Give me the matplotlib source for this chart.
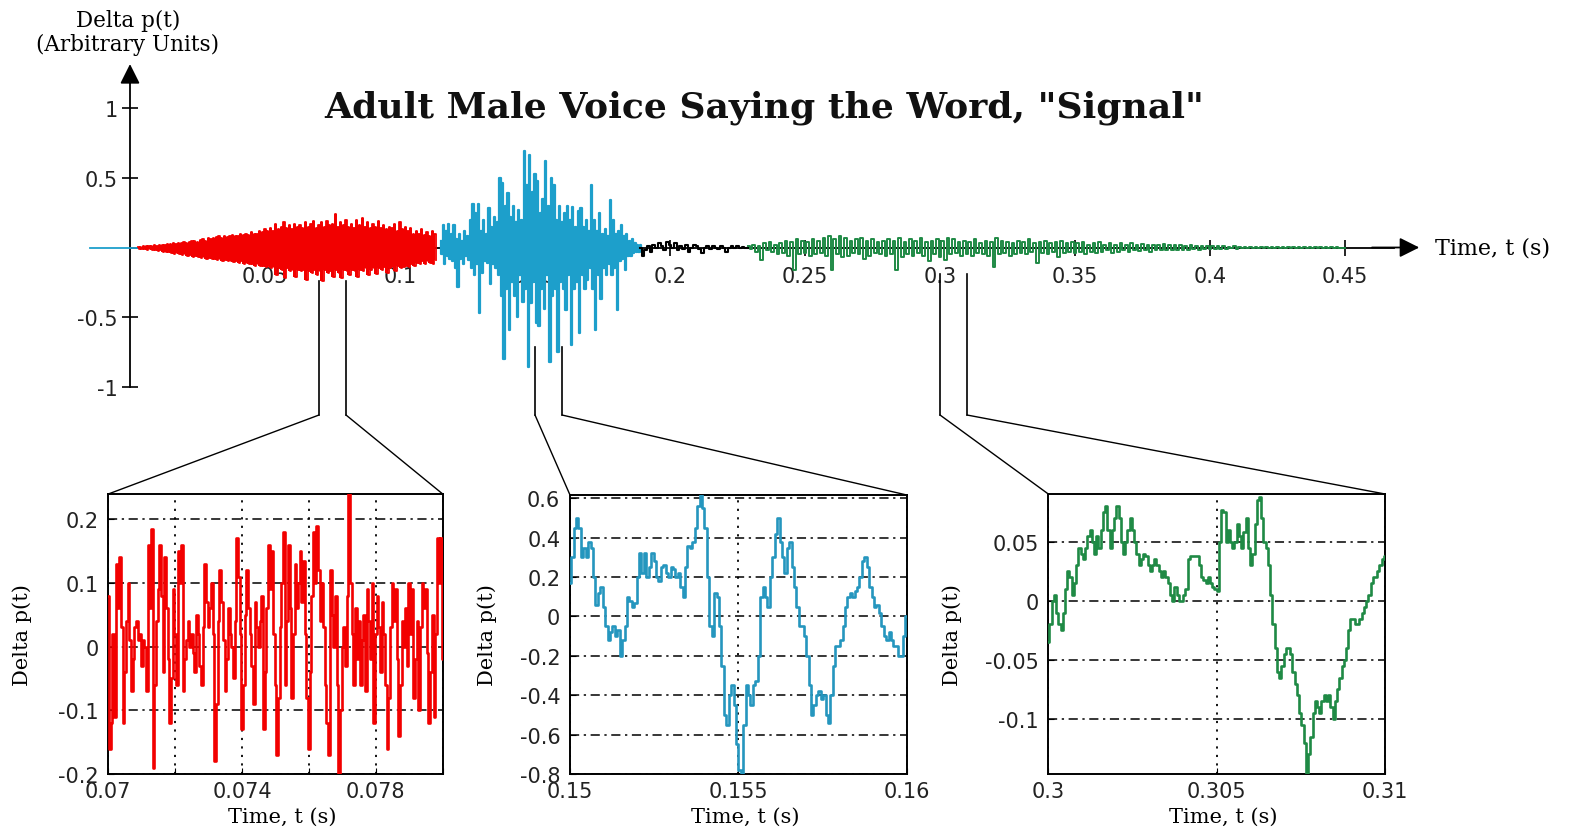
import numpy as np
import matplotlib.pyplot as plt
from matplotlib.patches import ConnectionPatch

# ---------------- main trace ----------------
# red part: upper / lower swing of the trace every millisecond
red_t0, red_dt = 0.003, 0.001
red_hi = [0.005, 0.006, 0.008, 0.01, 0.01, 0.012, 0.015, 0.012, 0.018, 0.02,
          0.02, 0.025, 0.022, 0.03, 0.028, 0.035, 0.03, 0.04, 0.035, 0.04,
          0.045, 0.05, 0.04, 0.055, 0.06, 0.05, 0.065, 0.06, 0.07, 0.075,
          0.08, 0.07, 0.085, 0.075, 0.08, 0.09, 0.08, 0.085, 0.095, 0.09,
          0.1, 0.09, 0.11, 0.1, 0.095, 0.12, 0.11, 0.13, 0.12, 0.14,
          0.12, 0.17, 0.13, 0.15, 0.18, 0.14, 0.16, 0.13, 0.17, 0.15,
          0.16, 0.14, 0.18, 0.15, 0.17, 0.19, 0.14, 0.16, 0.18, 0.15,
          0.19, 0.16, 0.17, 0.24, 0.15, 0.18, 0.16, 0.2, 0.15, 0.17,
          0.14, 0.2, 0.16, 0.21, 0.15, 0.18, 0.14, 0.17, 0.15, 0.19,
          0.14, 0.16, 0.13, 0.15, 0.14, 0.17, 0.12, 0.18, 0.13, 0.15,
          0.12, 0.14, 0.1, 0.12, 0.1, 0.13, 0.09, 0.11, 0.08, 0.12, 0.1]
red_lo = [-0.008, -0.01, -0.012, -0.015, -0.012, -0.02, -0.018, -0.025, -0.02, -0.03,
          -0.035, -0.03, -0.04, -0.045, -0.04, -0.05, -0.055, -0.05, -0.06, -0.055,
          -0.065, -0.06, -0.07, -0.075, -0.07, -0.08, -0.075, -0.085, -0.08, -0.09,
          -0.085, -0.095, -0.09, -0.1, -0.095, -0.105, -0.1, -0.11, -0.1, -0.115,
          -0.11, -0.12, -0.115, -0.13, -0.12, -0.135, -0.13, -0.14, -0.13, -0.15,
          -0.14, -0.2, -0.15, -0.16, -0.22, -0.15, -0.17, -0.16, -0.21, -0.16,
          -0.17, -0.16, -0.23, -0.17, -0.18, -0.16, -0.2, -0.17, -0.24, -0.16,
          -0.18, -0.17, -0.21, -0.16, -0.18, -0.22, -0.16, -0.17, -0.2, -0.16,
          -0.17, -0.21, -0.16, -0.17, -0.15, -0.2, -0.16, -0.15, -0.19, -0.15,
          -0.16, -0.14, -0.18, -0.15, -0.14, -0.17, -0.13, -0.15, -0.14, -0.13,
          -0.14, -0.12, -0.13, -0.11, -0.12, -0.1, -0.12, -0.1, -0.11, -0.12, -0.09]

# blue part (loud vowel)
blue_t0, blue_dt = 0.115, 0.001
blue_hi = [0.05, 0.16, 0.12, 0.17, 0.1, 0.16, 0.06, 0.1, 0.05, 0.12,
           0.08, 0.2, 0.31, 0.25, 0.31, 0.12, 0.2, 0.1, 0.28, 0.15,
           0.22, 0.18, 0.5, 0.46, 0.3, 0.39, 0.22, 0.3, 0.18, 0.27,
           0.2, 0.695, 0.45, 0.66, 0.4, 0.53, 0.48, 0.25, 0.35, 0.62,
           0.3, 0.5, 0.45, 0.2, 0.3, 0.18, 0.25, 0.3, 0.2, 0.29,
           0.15, 0.26, 0.28, 0.15, 0.2, 0.12, 0.45, 0.2, 0.12, 0.25,
           0.1, 0.13, 0.08, 0.34, 0.2, 0.1, 0.12, 0.16, 0.08, 0.1,
           0.05, 0.06, 0.03, 0.02, 0.02]
blue_lo = [-0.05, -0.12, -0.06, -0.08, -0.1, -0.15, -0.28, -0.08, -0.12, -0.06,
           -0.09, -0.15, -0.2, -0.12, -0.47, -0.18, -0.1, -0.11, -0.26, -0.12,
           -0.15, -0.2, -0.35, -0.8, -0.3, -0.59, -0.25, -0.35, -0.5, -0.2,
           -0.39, -0.3, -0.86, -0.4, -0.25, -0.54, -0.56, -0.3, -0.44, -0.2,
           -0.82, -0.35, -0.3, -0.75, -0.25, -0.3, -0.45, -0.2, -0.7, -0.3,
           -0.25, -0.61, -0.2, -0.3, -0.23, -0.15, -0.3, -0.59, -0.2, -0.37,
           -0.15, -0.2, -0.12, -0.2, -0.15, -0.45, -0.1, -0.08, -0.16, -0.06,
           -0.06, -0.04, -0.03, -0.03, -0.02]

# black part (pause before the "g")
black_t0, black_dt = 0.189, 0.001
black_vals = [0.0, -0.06, -0.02, 0.01, -0.03, 0.02, 0.0, 0.03, 0.01, -0.02,
              0.04, 0.02, 0.0, 0.03, -0.02, 0.01, -0.01, 0.02, -0.03, 0.0,
              0.02, 0.01, -0.01, -0.04, 0.0, 0.01, -0.01, 0.01, 0.0, -0.01,
              0.01, 0.0, -0.03, 0.0, 0.01, 0.0, 0.01, 0.0, 0.005, 0.0, 0.0]

# green part (the "nal" tail)
green_t0, green_dt = 0.229, 0.002
green_hi = [0.01, 0.02, 0.01, 0.03, 0.04, 0.02, 0.03, 0.05, 0.04, 0.06,
            0.05, 0.04, 0.06, 0.05, 0.07, 0.08, 0.06, 0.08, 0.07, 0.05,
            0.06, 0.07, 0.05, 0.06, 0.04, 0.05, 0.06, 0.05, 0.07, 0.04,
            0.06, 0.05, 0.07, 0.04, 0.05, 0.06, 0.05, 0.07, 0.06, 0.04,
            0.05, 0.04, 0.06, 0.03, 0.05, 0.04, 0.07, 0.05, 0.04, 0.03,
            0.05, 0.04, 0.06, 0.03, 0.04, 0.05, 0.03, 0.04, 0.05, 0.03,
            0.04, 0.03, 0.04, 0.02, 0.03, 0.04, 0.02, 0.03, 0.02, 0.03,
            0.02, 0.03, 0.02, 0.025, 0.02, 0.015, 0.02, 0.025, 0.015, 0.02,
            0.015, 0.01, 0.015, 0.01, 0.012, 0.008, 0.01, 0.008, 0.01, 0.006,
            0.008, 0.005, 0.006, 0.005, 0.004, 0.005, 0.004, 0.003, 0.004, 0.003,
            0.003, 0.002, 0.003, 0.002, 0.002, 0.002, 0.001, 0.002, 0.001, 0.001, 0.0]
green_lo = [-0.01, -0.03, -0.09, -0.02, -0.03, -0.05, -0.04, -0.06, -0.16, -0.05,
            -0.04, -0.06, -0.05, -0.04, -0.06, -0.16, -0.05, -0.07, -0.06, -0.04,
            -0.05, -0.08, -0.06, -0.04, -0.05, -0.06, -0.05, -0.16, -0.07, -0.05,
            -0.06, -0.04, -0.06, -0.1, -0.05, -0.07, -0.09, -0.05, -0.04, -0.06,
            -0.05, -0.06, -0.04, -0.05, -0.06, -0.14, -0.05, -0.04, -0.06, -0.05,
            -0.04, -0.05, -0.03, -0.11, -0.04, -0.05, -0.03, -0.07, -0.04, -0.03,
            -0.04, -0.03, -0.05, -0.03, -0.04, -0.03, -0.02, -0.04, -0.03, -0.02,
            -0.03, -0.02, -0.025, -0.02, -0.03, -0.02, -0.015, -0.02, -0.02, -0.015,
            -0.02, -0.015, -0.01, -0.015, -0.01, -0.012, -0.008, -0.01, -0.008, -0.006,
            -0.008, -0.006, -0.005, -0.006, -0.004, -0.005, -0.003, -0.004, -0.003, -0.003,
            -0.003, -0.002, -0.002, -0.002, -0.001, -0.002, -0.001, -0.001, -0.001, -0.001, 0.0]

# flat lead-in left of the origin
lead_t = [-0.015, 0.004]
lead_vals = [0.0, 0.0]

main_xticks = [0.05, 0.1, 0.15, 0.2, 0.25, 0.3, 0.35, 0.4, 0.45]
main_xlabels = ["0.05", "0.1", "0.15", "0.2", "0.25", "0.3", "0.35", "0.4", "0.45"]
main_yticks = [1, 0.5, -0.5, -1]
main_ylabels = ["1", "0.5", "-0.5", "-1"]

# ---------------- zoomed windows ----------------
red_zoom_range = (0.07, 0.08)
red_zoom_milli = [80, -160, -120, 20, -110, 130, 60, 140, 30, -120,
                  -40, 40, 100, 10, -70, -20, 30, 40, 10, 20,
                  -30, 10, 0, -70, 160, 60, 184, -190, -60, 40,
                  90, 160, 80, -40, 140, 60, -20, -120, -50, 90,
                  20, -60, 150, 100, 160, -70, -20, 10, 40, 0,
                  20, -10, -40, 50, 20, -30, -60, 30, 130, 70,
                  30, 60, 100, 20, -180, -90, 40, 120, 70, 10,
                  -70, -20, 60, 20, 0, -50, 40, 170, 110, 20,
                  -130, -60, 50, 120, 60, 20, -30, -90, 70, 30,
                  0, 40, 80, -130, -40, 60, 160, 90, 150, 20,
                  -60, -170, -80, 30, 100, 180, -60, 40, 160, 60,
                  -80, 20, 130, 60, 100, 150, 70, 135, 20, -80,
                  -160, -40, 80, 180, 100, 190, 120, 40, 100, 30,
                  -60, -120, -170, 120, 50, 0, 80, -60, -250, -100,
                  0, 30, -30, 80, 300, 100, 20, -60, 60, -20,
                  40, -60, 10, 50, -70, 90, 40, -20, 100, -120,
                  20, 80, 30, -40, 70, 20, -60, -160, -80, 30,
                  100, 40, 90, -20, -140, -60, 40, 0, 60, -30,
                  100, 20, 90, -80, -20, 40, -100, 30, 100, 60,
                  90, -10, -120, -40, 50, -110, 20, 170, 100, 170,
                  -20]
red_zoom_xticks = [0.07, 0.072, 0.074, 0.076, 0.078, 0.08]
red_zoom_xlabels = ["0.07", "", "0.074", "", "0.078", ""]
red_zoom_yticks = [-0.2, -0.1, 0, 0.1, 0.2]
red_zoom_ylabels = ["-0.2", "-0.1", "0", "0.1", "0.2"]

blue_zoom_range = (0.15, 0.16)
blue_zoom = [0.17, 0.3, 0.45, 0.5, 0.45, 0.3, 0.35, 0.3, 0.38, 0.35,
             0.2, 0.06, 0.12, 0.15, 0.05, -0.05, -0.12, -0.08, -0.05, -0.1,
             -0.07, -0.2, -0.12, -0.05, 0.1, 0.08, 0.05, 0.07, 0.2, 0.32,
             0.22, 0.32, 0.2, 0.25, 0.32, 0.28, 0.2, 0.18, 0.25, 0.26,
             0.22, 0.2, 0.25, 0.24, 0.2, 0.22, 0.15, 0.1, 0.25, 0.36,
             0.35, 0.38, 0.45, 0.56, 0.62, 0.55, 0.45, 0.2, -0.05, -0.1,
             0.12, 0.1, -0.05, -0.25, -0.5, -0.55, -0.4, -0.35, -0.45, -0.65,
             -0.78, -0.82, -0.55, -0.35, -0.4, -0.45, -0.35, -0.33, -0.2, 0.1,
             0.15, 0.1, 0.05, 0.2, 0.3, 0.42, 0.5, 0.38, 0.3, 0.22,
             0.35, 0.38, 0.25, 0.15, 0.05, -0.05, -0.05, -0.1, -0.2, -0.35,
             -0.5, -0.45, -0.4, -0.38, -0.42, -0.4, -0.5, -0.54, -0.4, -0.25,
             -0.15, -0.15, -0.12, -0.05, 0.05, 0.1, 0.12, 0.1, 0.13, 0.15,
             0.2, 0.28, 0.3, 0.25, 0.15, 0.1, 0.05, 0.06, 0.02, -0.05,
             -0.1, -0.12, -0.08, -0.12, -0.15, -0.15, -0.2, -0.2, -0.1, 0.0]
blue_zoom_xticks = [0.15, 0.155, 0.16]
blue_zoom_xlabels = ["0.15", "0.155", "0.16"]
blue_zoom_yticks = [-0.8, -0.6, -0.4, -0.2, 0, 0.2, 0.4, 0.6]
blue_zoom_ylabels = ["-0.8", "-0.6", "-0.4", "-0.2", "0", "0.2", "0.4", "0.6"]

green_zoom_range = (0.3, 0.31)
green_zoom = [-0.035, -0.02, 0.0, 0.005, -0.01, -0.02, -0.025, -0.01, 0.01, 0.025,
              0.02, 0.005, 0.015, 0.03, 0.045, 0.04, 0.035, 0.045, 0.055, 0.06,
              0.05, 0.04, 0.055, 0.045, 0.06, 0.075, 0.08, 0.06, 0.045, 0.06,
              0.07, 0.08, 0.07, 0.05, 0.04, 0.05, 0.06, 0.07, 0.06, 0.05,
              0.04, 0.03, 0.035, 0.04, 0.038, 0.03, 0.025, 0.03, 0.035, 0.03,
              0.025, 0.02, 0.025, 0.02, 0.015, 0.005, 0.0, 0.012, 0.005, 0.0,
              0.0, 0.005, 0.01, 0.035, 0.038, 0.038, 0.038, 0.038, 0.03, 0.02,
              0.018, 0.015, 0.02, 0.015, 0.012, 0.01, 0.008, 0.05, 0.077, 0.075,
              0.05, 0.06, 0.05, 0.045, 0.05, 0.065, 0.055, 0.045, 0.058, 0.07,
              0.045, 0.03, 0.04, 0.065, 0.085, 0.088, 0.07, 0.05, 0.045, 0.03,
              0.005, -0.02, -0.04, -0.06, -0.065, -0.055, -0.045, -0.04, -0.04, -0.045,
              -0.06, -0.07, -0.08, -0.095, -0.105, -0.12, -0.15, -0.13, -0.115, -0.095,
              -0.085, -0.09, -0.095, -0.085, -0.08, -0.085, -0.08, -0.09, -0.1, -0.085,
              -0.075, -0.065, -0.055, -0.05, -0.04, -0.025, -0.015, -0.015, -0.02, -0.02,
              -0.015, -0.01, -0.005, 0.0, 0.005, 0.015, 0.02, 0.02, 0.025, 0.03,
              0.035, 0.038]
green_zoom_xticks = [0.3, 0.305, 0.31]
green_zoom_xlabels = ["0.3", "0.305", "0.31"]
green_zoom_yticks = [-0.1, -0.05, 0, 0.05]
green_zoom_ylabels = ["-0.1", "-0.05", "0", "0.05"]

RED = "#f20000"
BLUE = "#1d9fcb"
GREEN = "#1f8a45"
SERIF = "DejaVu Serif"
SANS = "DejaVu Sans"

W, H = 1578, 828
fig = plt.figure(figsize=(W / 100, H / 100), dpi=100)


def swing(t0, dt, hi, lo):
    """interleave upper and lower swings into one jagged trace"""
    t = t0 + dt * np.arange(len(hi))
    tt = np.column_stack((t, t + dt / 2)).ravel()
    yy = np.column_stack((hi, lo)).ravel()
    return tt, yy


# main axes spans the whole figure: 2700 px per second, 139.5 px per unit
ax = fig.add_axes([0, 0, 1, 1])
ax.set_xlim(-130 / 2700, (W - 130) / 2700)
ax.set_ylim((248.5 - H) / 139.5, 248.5 / 139.5)
ax.patch.set_alpha(0)

ax.plot(lead_t, lead_vals, color=BLUE, lw=1.3, zorder=3)

# red: dense noise, shown as a solid band with a jagged edge
t_red = red_t0 + red_dt * np.arange(len(red_hi))
ax.fill_between(t_red, red_lo, red_hi, step="mid", color=RED, lw=0, zorder=3)
tt, yy = swing(red_t0, red_dt, red_hi, red_lo)
ax.plot(tt, yy, color=RED, lw=1.3, drawstyle="steps-mid", zorder=3)

tt, yy = swing(blue_t0, blue_dt, blue_hi, blue_lo)
ax.plot(tt, yy, color=BLUE, lw=1.6, drawstyle="steps-mid", zorder=3)
tt, yy = swing(green_t0, green_dt, green_hi, green_lo)
ax.plot(tt, yy, color=GREEN, lw=1.4, drawstyle="steps-mid", zorder=3)
tb = black_t0 + black_dt * np.arange(len(black_vals))
ax.plot(tb, black_vals, color="black", lw=1.5, drawstyle="steps-mid", zorder=3)

for side in ["top", "right"]:
    ax.spines[side].set_visible(False)
ax.spines["left"].set_position(("data", 0))
ax.spines["bottom"].set_position(("data", 0))
ax.spines["left"].set_bounds(-1, 1.2)
ax.spines["bottom"].set_bounds(0, 0.468)
ax.spines["left"].set_linewidth(1.3)
ax.spines["bottom"].set_linewidth(1.3)
ax.set_xticks(main_xticks, main_xlabels)
ax.set_yticks(main_yticks, main_ylabels)
ax.tick_params(direction="inout", length=12, width=1.2, labelsize=15,
               labelcolor="#222222", labelfontfamily=SANS)
ax.tick_params(axis="x", pad=7)
ax.tick_params(axis="y", pad=3)

ax.annotate("", xy=(0, 1.315), xytext=(0, 1.18),
            arrowprops=dict(arrowstyle="-|>,head_length=0.6,head_width=0.3",
                            color="black", lw=1.3, mutation_scale=20, shrinkA=0, shrinkB=0))
ax.annotate("", xy=(0.4775, 0), xytext=(0.46, 0),
            arrowprops=dict(arrowstyle="-|>,head_length=0.6,head_width=0.3",
                            color="black", lw=1.3, mutation_scale=20, shrinkA=0, shrinkB=0))
ax.text(0.4833, 0, "Time, t (s)", ha="left", va="center", fontsize=16, family=SERIF)

fig.text(128 / W, 1 - 33 / H, "Delta p(t)\n(Arbitrary Units)", ha="center", va="center",
         fontsize=15.5, family=SERIF, linespacing=1.1)
fig.text(764 / W, 1 - 108 / H, 'Adult Male Voice Saying the Word, "Signal"',
         ha="center", va="center", fontsize=26, fontweight="bold", family=SERIF, color="#111111")


def zoom_panel(box, trange, vals, color, ylim, xticks, xlabels, yticks, ylabels, ylab_x):
    x0, y0, x1, y1 = box
    axz = fig.add_axes([x0 / W, 1 - y1 / H, (x1 - x0) / W, (y1 - y0) / H])
    t = np.linspace(trange[0], trange[1], len(vals))
    axz.plot(t, vals, color=color, lw=1.9, drawstyle="steps-mid", zorder=3)
    axz.set_xlim(trange)
    axz.set_ylim(ylim)
    axz.set_xticks(xticks, xlabels)
    axz.set_yticks(yticks, ylabels)
    axz.grid(axis="x", color="black", lw=1.3, ls=(0, (1.2, 3.5)))
    axz.grid(axis="y", color="black", lw=1.1, ls=(0, (6, 3, 1.5, 3)))
    for s in axz.spines.values():
        s.set_linewidth(1.4)
    axz.tick_params(direction="in", length=4, labelsize=15, labelcolor="#222222",
                    labelfontfamily=SANS)
    axz.tick_params(axis="x", pad=5)
    axz.tick_params(axis="y", pad=7)
    axz.set_xlabel("Time, t (s)", fontsize=15, family=SERIF)
    axz.set_ylabel("Delta p(t)", fontsize=15, family=SERIF)
    axz.xaxis.set_label_coords(0.52, -0.118)
    axz.yaxis.set_label_coords(ylab_x, 0.5)
    return axz


def leader(axz, trange, y_start, y_knee):
    for t, corner in zip(trange, [(0, 1), (1, 1)]):
        ax.plot([t, t], [y_start, y_knee], color="black", lw=1.2, zorder=2)
        con = ConnectionPatch(xyA=(t, y_knee), coordsA=ax.transData,
                              xyB=corner, coordsB=axz.transAxes, color="black", lw=1.0)
        fig.add_artist(con)


ax_r = zoom_panel((108.3, 495, 442.7, 775), red_zoom_range, np.array(red_zoom_milli) / 1000,
                  RED, (-0.2, 0.2395), red_zoom_xticks, red_zoom_xlabels,
                  red_zoom_yticks, red_zoom_ylabels, -0.228)
ax_b = zoom_panel((570, 496, 906.7, 775), blue_zoom_range, blue_zoom,
                  "#2596be", (-0.8, 0.617), blue_zoom_xticks, blue_zoom_xlabels,
                  blue_zoom_yticks, blue_zoom_ylabels, -0.217)
ax_g = zoom_panel((1048.3, 495, 1385, 775), green_zoom_range, green_zoom,
                  GREEN, (-0.1466, 0.0904), green_zoom_xticks, green_zoom_xlabels,
                  green_zoom_yticks, green_zoom_ylabels, -0.256)

knee = (248.5 - 416) / 139.5
leader(ax_r, red_zoom_range, (248.5 - 282) / 139.5, knee)
leader(ax_b, blue_zoom_range, (248.5 - 348) / 139.5, knee)
leader(ax_g, green_zoom_range, (248.5 - 275) / 139.5, knee)

fig.savefig("out.png", dpi=100)
